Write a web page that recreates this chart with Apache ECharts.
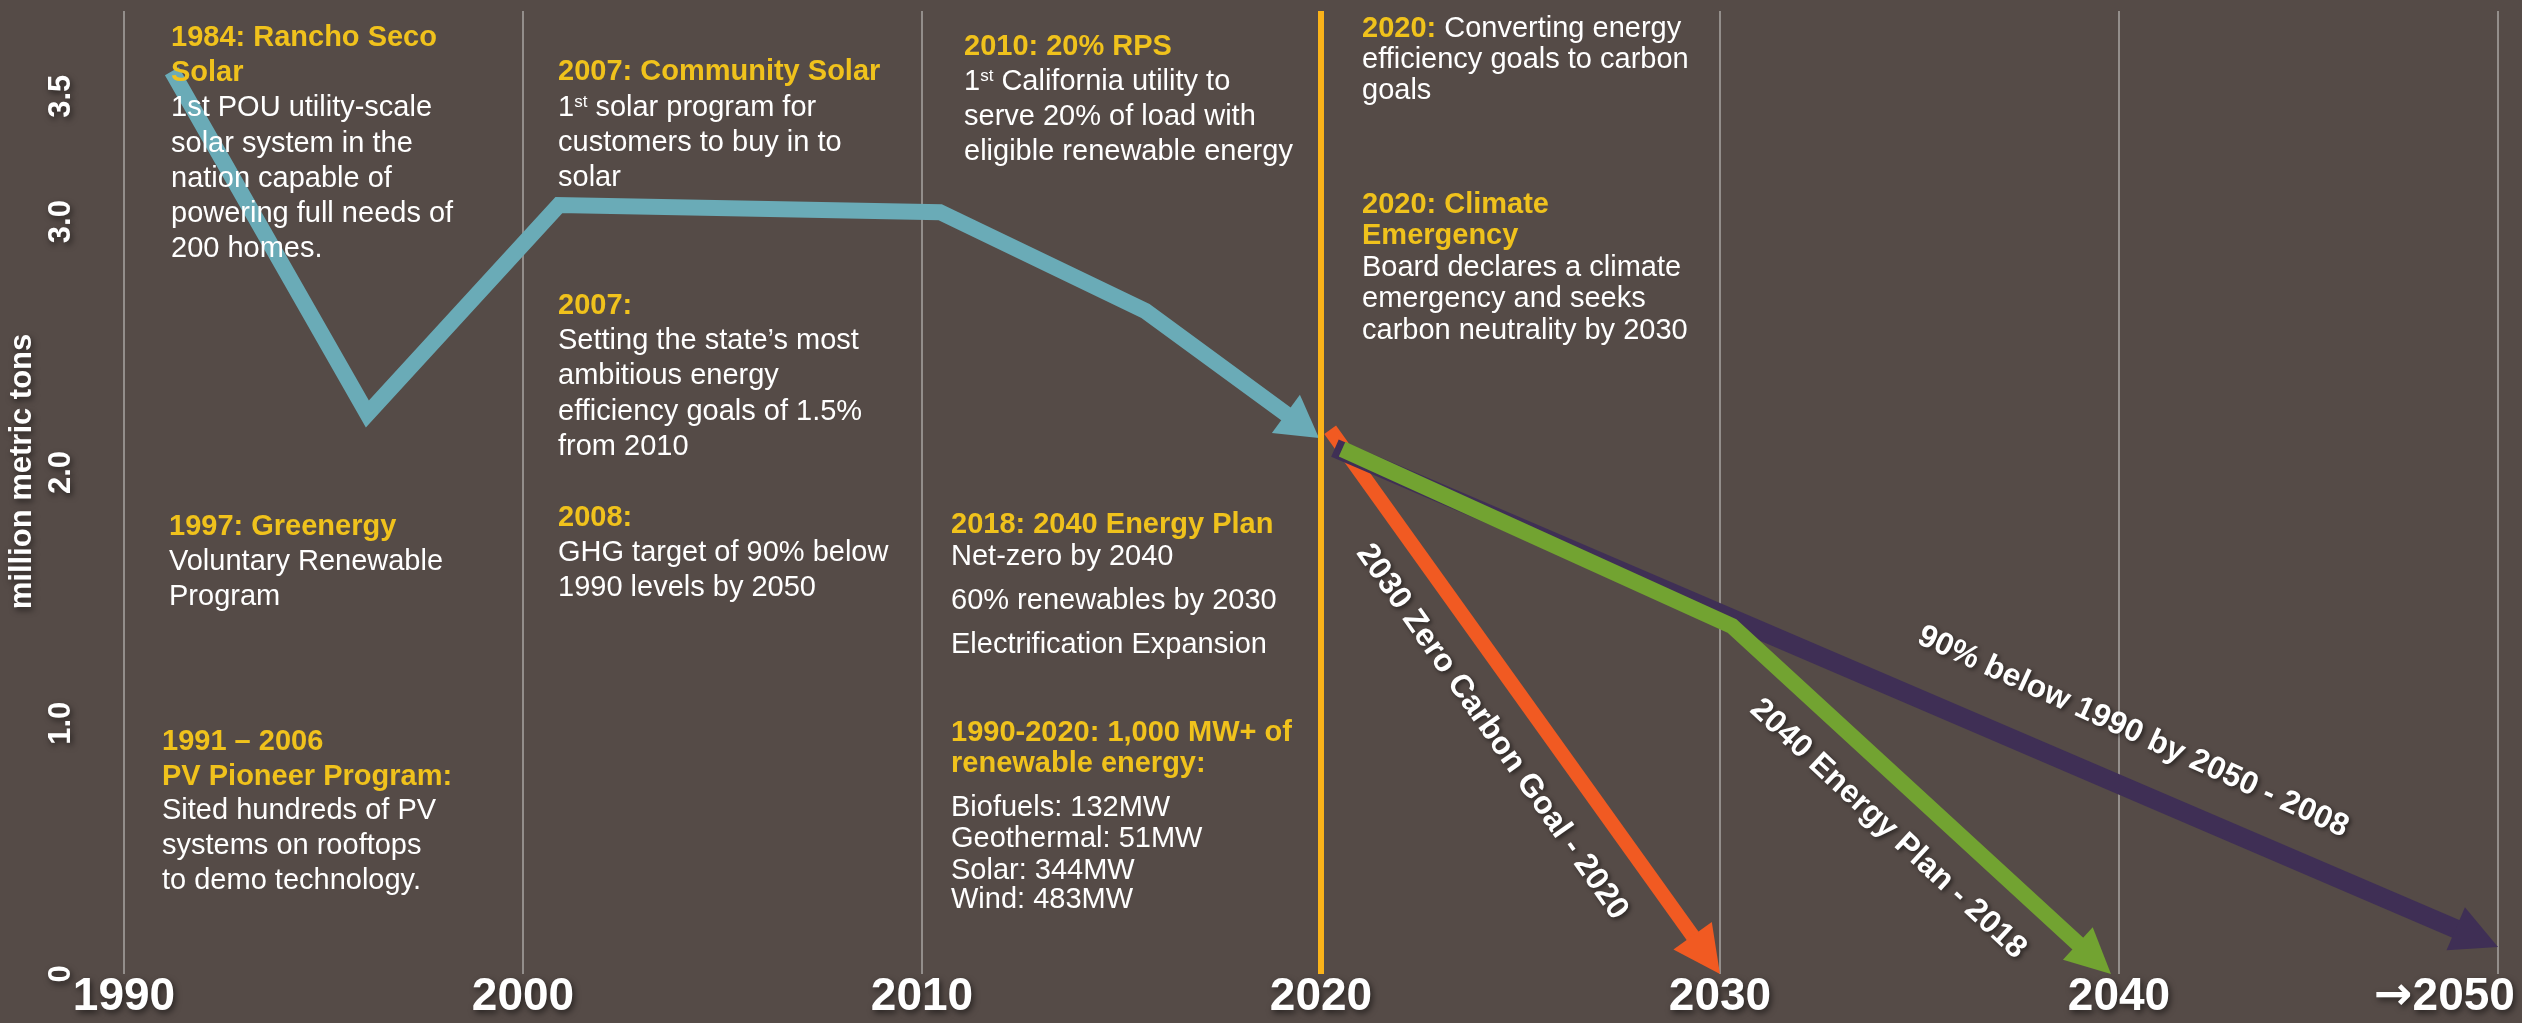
<!DOCTYPE html>
<html>
<head>
<meta charset="utf-8">
<script src="https://cdn.jsdelivr.net/npm/echarts@6.0.0/dist/echarts.min.js"></script>
<style>
html,body{margin:0;padding:0;background:#554b47;overflow:hidden;}
#chart{width:2522px;height:1023px;}
</style>
</head>
<body>
<div id="chart"></div>
<script>
// ---------------- data ----------------
const xTickValues = [1990, 2000, 2010, 2020, 2030, 2040, 2049.5];
const xTickLabels = ['1990', '2000', '2010', '2020', '2030', '2040', '2050'];
const yTickValues = [0, 1, 2, 3, 3.5];
const yTickLabels = ['0', '1.0', '2.0', '3.0', '3.5'];

// historical emissions (million metric tons)
const historyYears  = [1991.2, 1996.1, 2000.9, 2010.45, 2015.6, 2019.95];
const historyValues = [3.60, 2.233, 3.066, 3.038, 2.644, 2.137];
// 2030 Zero Carbon Goal - 2020
const zeroCarbonYears  = [2020.23, 2030.0];
const zeroCarbonValues = [2.17, 0];
// 2040 Energy Plan - 2018
const energyPlanYears  = [2020.53, 2030.3, 2039.8];
const energyPlanValues = [2.093, 1.388, 0];
// 90% below 1990 by 2050 - 2008
const below1990Years  = [2020.35, 2049.5];
const below1990Values = [2.097, 0.108];

const policyYear = 2020;

// ---------------- style ----------------
const FONT = "'Liberation Sans', Arial, Helvetica, sans-serif";
const FS = 29;
const YEL = '#f0c21c';
const WHITE = '#ffffff';
const SHADOW = 'rgba(0,0,0,0.55)';

const RICH = {
  h: {fontFamily: FONT, fontSize: FS, fontWeight: 'bold', fill: YEL, lineHeight: 29},
  w: {fontFamily: FONT, fontSize: FS, fontWeight: 'normal', fill: WHITE, lineHeight: 29},
  s: {fontFamily: FONT, fontSize: 17, fontWeight: 'normal', fill: WHITE, lineHeight: 17, verticalAlign: 'top'}
};

const blocks = [
  {x: 171, b: [48, 83, 118, 154, 189, 224, 259], t: ['{h|1984: Rancho Seco}', '{h|Solar}', '{w|1st POU utility-scale}', '{w|solar system in the}', '{w|nation capable of}', '{w|powering full needs of}', '{w|200 homes.}']},
  {x: 169, b: [537, 572, 607], t: ['{h|1997: Greenergy}', '{w|Voluntary Renewable}', '{w|Program}']},
  {x: 162, b: [752, 787, 821, 856, 891], t: ['{h|1991 – 2006}', '{h|PV Pioneer Program:}', '{w|Sited hundreds of PV}', '{w|systems on rooftops}', '{w|to demo technology.}']},
  {x: 558, b: [82, 118, 153, 188], t: ['{h|2007: Community Solar}', '{w|1}{s|st}{w| solar program for}', '{w|customers to buy in to}', '{w|solar}']},
  {x: 558, b: [316, 351, 386, 422, 457], t: ['{h|2007:}', '{w|Setting the state’s most}', '{w|ambitious energy}', '{w|efficiency goals of 1.5%}', '{w|from 2010}']},
  {x: 558, b: [528, 563, 598], t: ['{h|2008:}', '{w|GHG target of 90% below}', '{w|1990 levels by 2050}']},
  {x: 964, b: [57, 92, 127, 162], t: ['{h|2010: 20% RPS}', '{w|1}{s|st}{w| California utility to}', '{w|serve 20% of load with}', '{w|eligible renewable energy}']},
  {x: 951, b: [535, 567, 611, 655], t: ['{h|2018: 2040 Energy Plan}', '{w|Net-zero by 2040}', '{w|60% renewables by 2030}', '{w|Electrification Expansion}']},
  {x: 951, b: [743, 774, 818, 849, 881, 910], t: ['{h|1990-2020: 1,000 MW+ of}', '{h|renewable energy:}', '{w|Biofuels: 132MW}', '{w|Geothermal: 51MW}', '{w|Solar: 344MW}', '{w|Wind: 483MW}']},
  {x: 1362, b: [39, 70, 101], t: ['{h|2020:}{w| Converting energy}', '{w|efficiency goals to carbon}', '{w|goals}']},
  {x: 1362, b: [215, 246, 278, 309, 341], t: ['{h|2020: Climate}', '{h|Emergency}', '{w|Board declares a climate}', '{w|emergency and seeks}', '{w|carbon neutrality by 2030}']}
];

const lineLabels = [
  {text: '2030 Zero Carbon Goal - 2020', x: 1492, y: 732, angle: 55},
  {text: '2040 Energy Plan - 2018', x: 1888, y: 829, angle: 43},
  {text: '90% below 1990 by 2050 - 2008', x: 2133, y: 732, angle: 24.5}
];

const graphics = [];
blocks.forEach(bl => {
  bl.t.forEach((txt, i) => {
    graphics.push({
      type: 'text', x: bl.x, y: bl.b[i] - 0.3465 * FS, silent: true, z: 50,
      style: {text: txt, rich: RICH, align: 'left', verticalAlign: 'middle'}
    });
  });
});
lineLabels.forEach(l => {
  graphics.push({
    type: 'text', x: l.x, y: l.y, rotation: -l.angle * Math.PI / 180, silent: true, z: 60,
    style: {
      text: l.text, fill: WHITE, font: 'bold 32px ' + FONT, align: 'center', verticalAlign: 'middle',
      textShadowColor: SHADOW, textShadowBlur: 4, textShadowOffsetX: 2, textShadowOffsetY: 2
    }
  });
});

function arrowSeries(name, years, values, color, width, headLen, headHalf, z, extra) {
  const s = {
    name: name, type: 'custom', coordinateSystem: 'cartesian2d', z: z, silent: true, clip: false,
    data: years.map((yr, i) => [yr, values[i]]),
    encode: {x: 0, y: 1},
    renderItem: function (params, api) {
      if (params.dataIndex !== 0) return null;
      const pts = years.map((yr, i) => api.coord([yr, values[i]]));
      const n = pts.length;
      const tip = pts[n - 1], prev = pts[n - 2];
      const dx = tip[0] - prev[0], dy = tip[1] - prev[1];
      const len = Math.hypot(dx, dy);
      const ux = dx / len, uy = dy / len;
      const bx = tip[0] - ux * headLen, by = tip[1] - uy * headLen;
      const linePts = pts.slice(0, n - 1).concat([[bx + ux * 3, by + uy * 3]]);
      return {
        type: 'group',
        children: [
          {type: 'polyline', shape: {points: linePts},
           style: {stroke: color, lineWidth: width, fill: null, lineJoin: 'miter', miterLimit: 20, lineCap: 'butt'}},
          {type: 'polygon', shape: {points: [tip, [bx - uy * headHalf, by + ux * headHalf], [bx + uy * headHalf, by - ux * headHalf]]},
           style: {fill: color}}
        ]
      };
    }
  };
  return Object.assign(s, extra || {});
}

const axisShadow = {textShadowColor: SHADOW, textShadowBlur: 6, textShadowOffsetX: 2, textShadowOffsetY: 3};
const xLabelBase = {color: WHITE, fontFamily: FONT, fontWeight: 'bold', fontSize: 46, lineHeight: 46};

const option = {
  backgroundColor: '#554b47',
  animation: false,
  grid: {left: 124, right: 24, top: 11, bottom: 49, containLabel: false, outerBoundsMode: 'none'},
  xAxis: {
    type: 'value', min: 1990, max: 2049.5, interval: 10,
    axisLine: {show: false}, axisTick: {show: false},
    splitLine: {show: true, lineStyle: {color: '#a9a4a2', width: 1.5}},
    axisLabel: Object.assign({
      show: true, showMinLabel: true, showMaxLabel: true, margin: 0,
      formatter: function (v) {
        const i = xTickValues.indexOf(v);
        if (i < 0) return '';
        if (i === xTickValues.length - 1) return '{arr|→}{last|' + xTickLabels[i] + '}';
        return xTickLabels[i];
      },
      rich: {
        arr: Object.assign({}, xLabelBase, axisShadow, {fontFamily: "'DejaVu Sans', sans-serif"}),
        last: Object.assign({}, xLabelBase, axisShadow, {padding: [0, 107, 0, 0]})
      }
    }, xLabelBase, axisShadow)
  },
  yAxis: {
    type: 'value', min: 0, max: 3.84, interval: 0.5,
    axisLine: {show: false}, axisTick: {show: false}, splitLine: {show: false},
    axisLabel: Object.assign({
      rotate: 90, margin: 47, showMaxLabel: true,
      color: WHITE, fontFamily: FONT, fontWeight: 'bold', fontSize: 31, lineHeight: 31,
      formatter: function (v) {
        const i = yTickValues.indexOf(v);
        return i < 0 ? '' : yTickLabels[i];
      }
    }, axisShadow),
    name: 'million metric tons', nameLocation: 'middle', nameRotate: 90, nameGap: 86,
    nameTextStyle: Object.assign({color: WHITE, fontFamily: FONT, fontWeight: 'bold', fontSize: 31, lineHeight: 31, padding: [0, 0, 0, 42]}, axisShadow)
  },
  graphic: graphics,
  series: [
    arrowSeries('History', historyYears, historyValues, '#6aabb7', 16, 41, 23.7, 3, {
      markLine: {
        silent: true, symbol: ['none', 'none'], label: {show: false},
        lineStyle: {color: '#fab31a', width: 6, type: 'solid'},
        data: [{xAxis: policyYear}]
      }
    }),
    arrowSeries('2030 Zero Carbon Goal - 2020', zeroCarbonYears, zeroCarbonValues, '#f15a22', 14.5, 47, 23.6, 4),
    arrowSeries('90% below 1990 by 2050 - 2008', below1990Years, below1990Values, '#3f2f55', 19, 46, 23.4, 5),
    arrowSeries('2040 Energy Plan - 2018', energyPlanYears, energyPlanValues, '#72a331', 16, 45, 22, 6)
  ]
};

const chart = echarts.init(document.getElementById('chart'), null, {renderer: 'canvas', width: 2522, height: 1023});
chart.setOption(option);
</script>
</body>
</html>
